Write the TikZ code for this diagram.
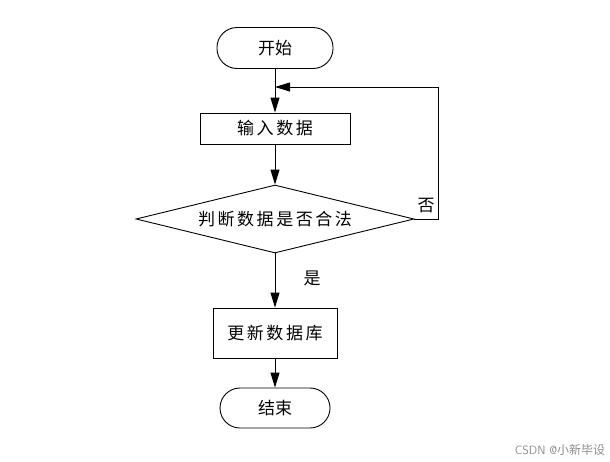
\documentclass[tikz,border=0pt]{standalone}
\usepackage{fontspec}
\newfontfamily\cjk{Noto Sans CJK SC}
\newfontfamily\cjkwide[LetterSpace=15]{Noto Sans CJK SC}
\usetikzlibrary{shapes.geometric,arrows.meta}
\begin{document}
\begin{tikzpicture}[x=1pt,y=-1pt,font=\cjk\fontsize{17}{20}\selectfont,
    terminal/.style={draw,rounded corners=20pt,minimum width=110pt,minimum height=40pt,inner sep=0pt},
    process/.style={draw,minimum width=150pt,minimum height=31pt,inner sep=0pt,font=\cjkwide\fontsize{17}{20}\selectfont},
    decision/.style={draw,diamond,shape aspect=4,minimum width=278pt,minimum height=68pt,inner sep=0pt,font=\cjkwide\fontsize{17}{20}\selectfont},
    arr/.style={->,>={Triangle[length=15pt,width=9pt]}},
    every path/.style={line width=.9pt}]
    \useasboundingbox (0,0) rectangle (610,461);
    \node[terminal,minimum width=116pt,minimum height=41pt] (start) at (275,48) {开始};
    \node[process] (input) at (275,128.5) {输入数据};
    \node[decision] (check) at (275,219) {判断数据是否合法};
    \node[process,minimum width=124pt,minimum height=50pt] (update) at (275,333) {更新数据库};
    \node[terminal] (stop) at (275,408) {结束};
    \coordinate (loop) at (438,87);
    \coordinate (merge) at (275,87);
    \draw[arr] (start) -- (input);
    \draw[arr] (input) -- (check);
    \draw[arr] (check) -- (update);
    \draw[arr] (update) -- (stop);
    \draw[arr] (check.east) -| (loop) -- (merge);
    \node (no) at (426,206) {否};
    \node (yes) at (312,278) {是};
    \node[text=black!45,font=\sffamily\fontsize{12}{14}\selectfont] (mark) at (560,450) {CSDN @{\cjk 小新毕设}};
\end{tikzpicture}
\end{document}
